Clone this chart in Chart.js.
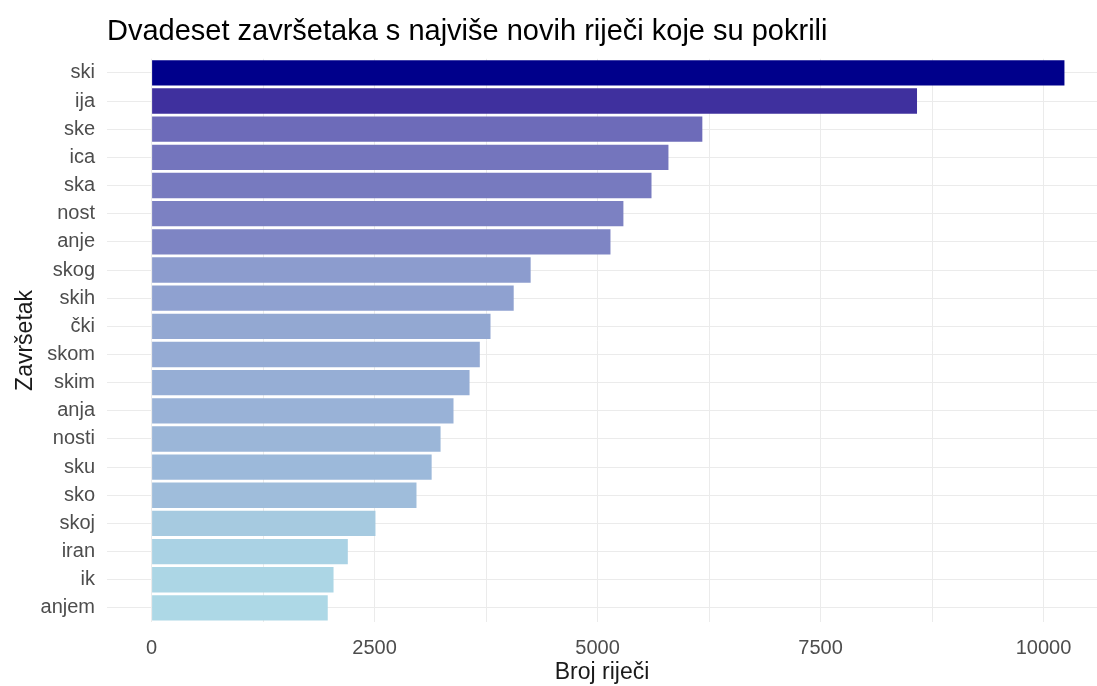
<!DOCTYPE html>
<html>
<head>
<meta charset="utf-8">
<script src="https://cdn.jsdelivr.net/npm/chart.js@4.4.1/dist/chart.umd.min.js"></script>
<style>
  html, body { margin: 0; padding: 0; background: #fff; }
  #wrap { width: 1097px; height: 686px; }
</style>
</head>
<body>
<div id="wrap"><canvas id="chart_zavrseci"></canvas></div>
<script>
// endings, ordered top to bottom
var endings = ['ski', 'ija', 'ske', 'ica', 'ska', 'nost', 'anje', 'skog', 'skih', 'čki',
               'skom', 'skim', 'anja', 'nosti', 'sku', 'sko', 'skoj', 'iran', 'ik', 'anjem'];
var wordCounts = [10235, 8582, 6175, 5795, 5605, 5290, 5145, 4250, 4060, 3800,
                  3680, 3565, 3385, 3240, 3140, 2970, 2510, 2200, 2040, 1975];
var xTicks = [0, 1250, 2500, 3750, 5000, 6250, 7500, 8750, 10000];
var xTickLabels = ['0', '', '2500', '', '5000', '', '7500', '', '10000'];

// fill gradient lightblue -> darkblue, interpolated in Lab like ggplot
function toLab(hex) {
    var c = [1, 3, 5].map(function(i) {
        var v = parseInt(hex.substr(i, 2), 16) / 255;
        return v <= 0.04045 ? v / 12.92 : Math.pow((v + 0.055) / 1.055, 2.4);
    });
    var x = (0.4124 * c[0] + 0.3576 * c[1] + 0.1805 * c[2]) / 0.95047;
    var y = 0.2126 * c[0] + 0.7152 * c[1] + 0.0722 * c[2];
    var z = (0.0193 * c[0] + 0.1192 * c[1] + 0.9505 * c[2]) / 1.08883;
    var f = function(t) { return t > 0.008856 ? Math.cbrt(t) : 7.787 * t + 16 / 116; };
    return [116 * f(y) - 16, 500 * (f(x) - f(y)), 200 * (f(y) - f(z))];
}
function fromLab(lab) {
    var fy = (lab[0] + 16) / 116, fx = fy + lab[1] / 500, fz = fy - lab[2] / 200;
    var inv = function(t) { return t * t * t > 0.008856 ? t * t * t : (t - 16 / 116) / 7.787; };
    var x = inv(fx) * 0.95047, y = inv(fy), z = inv(fz) * 1.08883;
    var rgb = [
        3.2406 * x - 1.5372 * y - 0.4986 * z,
        -0.9689 * x + 1.8758 * y + 0.0415 * z,
        0.0557 * x - 0.2040 * y + 1.0570 * z
    ].map(function(v) {
        v = v <= 0.0031308 ? 12.92 * v : 1.055 * Math.pow(v, 1 / 2.4) - 0.055;
        return Math.round(Math.max(0, Math.min(1, v)) * 255);
    });
    return 'rgb(' + rgb.join(',') + ')';
}
var lowLab = toLab('#ADD8E6'), highLab = toLab('#00008B');
var vmin = Math.min.apply(null, wordCounts), vmax = Math.max.apply(null, wordCounts);
var barColors = wordCounts.map(function(v) {
    var t = (v - vmin) / (vmax - vmin);
    return fromLab([0, 1, 2].map(function(i) { return lowLab[i] + (highLab[i] - lowLab[i]) * t; }));
});

var gridColor = '#ebebeb';

var chart_zavrseci = new Chart(document.getElementById('chart_zavrseci'), {
    type: 'bar',
    data: {
        labels: endings,
        datasets: [{
            label: 'Broj riječi',
            data: wordCounts,
            backgroundColor: barColors,
            borderWidth: 0,
            categoryPercentage: 1.0,
            barPercentage: 0.9
        }]
    },
    options: {
        indexAxis: 'y',
        animation: false,
        responsive: true,
        maintainAspectRatio: false,
        layout: { padding: 0 },
        plugins: {
            legend: { display: false },
            tooltip: { enabled: false },
            title: {
                display: true,
                fullSize: false,
                align: 'start',
                text: 'Dvadeset završetaka s najviše novih riječi koje su pokrili',
                color: '#000',
                font: { family: 'Liberation Sans', size: 29, weight: 'normal' },
                padding: { top: 15, bottom: 9 }
            }
        },
        scales: {
            x: {
                type: 'linear',
                min: -500,
                max: 10600,
                afterBuildTicks: function(scale) {
                    scale.ticks = xTicks.map(function(v) { return { value: v }; });
                },
                afterFit: function(scale) { scale.height = 64; },
                ticks: {
                    autoSkip: false,
                    maxRotation: 0,
                    padding: 14,
                    color: '#4d4d4d',
                    font: { family: 'Liberation Sans', size: 20 },
                    callback: function(value, index) { return xTickLabels[index]; }
                },
                grid: { color: gridColor, lineWidth: 1, drawTicks: false },
                border: { display: false },
                title: {
                    display: true,
                    text: 'Broj riječi',
                    color: '#1a1a1a',
                    font: { family: 'Liberation Sans', size: 23 },
                    padding: { top: 0, bottom: 0 }
                }
            },
            y: {
                afterFit: function(scale) { scale.width = 107; },
                ticks: {
                    padding: 12,
                    color: '#4d4d4d',
                    font: { family: 'Liberation Sans', size: 20 }
                },
                grid: { color: gridColor, lineWidth: 1, drawTicks: false, offset: false },
                border: { display: false },
                title: {
                    display: true,
                    text: 'Završetak',
                    color: '#1a1a1a',
                    font: { family: 'Liberation Sans', size: 23 },
                    padding: { top: 12, bottom: 0 }
                }
            }
        }
    },
    plugins: [{
        id: 'whiteBackground',
        beforeDraw: (chart) => {
            const ctx = chart.canvas.getContext('2d');
            ctx.save();
            ctx.globalCompositeOperation = 'destination-over';
            ctx.fillStyle = 'white';
            ctx.fillRect(0, 0, chart.canvas.width, chart.canvas.height);
            ctx.restore();
        }
    }]
});
</script>
</body>
</html>
